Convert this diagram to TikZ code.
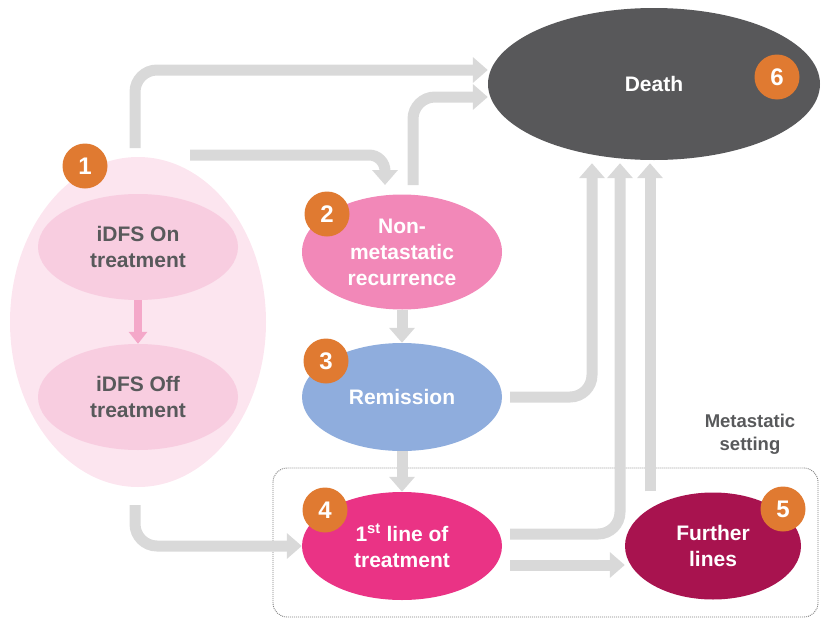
\documentclass[tikz,border=0pt]{standalone}
\usepackage{fontspec}
\setmainfont{Liberation Sans}
\usetikzlibrary{shapes.geometric,arrows.meta,calc}
\definecolor{flowgray}{HTML}{D9D9D9}
\definecolor{paleA}{HTML}{FCE5EF}
\definecolor{paleB}{HTML}{F8CDE0}
\definecolor{txtgray}{HTML}{58595B}
\definecolor{badgeor}{HTML}{E07A31}
\definecolor{deathc}{HTML}{58585A}
\definecolor{nmc}{HTML}{F288B8}
\definecolor{remc}{HTML}{8FADDD}
\definecolor{firstc}{HTML}{EA3385}
\definecolor{furtherc}{HTML}{A8134F}
\definecolor{pinkarrow}{HTML}{F4A8C9}
\tikzset{
  state/.style={ellipse, inner sep=0pt, align=center, text=white,
    font=\bfseries\fontsize{21}{26}\selectfont},
  inner/.style={ellipse, inner sep=0pt, align=center, fill=paleB, text=txtgray,
    minimum width=200pt, minimum height=106pt, font=\bfseries\fontsize{21}{26}\selectfont},
  badge/.style={circle, fill=badgeor, text=white, minimum size=45pt, inner sep=0pt,
    font=\bfseries\fontsize{24}{24}\selectfont},
  flow/.style={draw=flowgray, line width=11pt, rounded corners=22pt,
    -{Triangle[length=15pt,width=25pt]}},
}
\begin{document}
\begin{tikzpicture}[x=1pt,y=-1pt]
\useasboundingbox (0,0) rectangle (822,621);
% metastatic setting box
\draw[gray, line width=0.9pt, dash pattern=on 1pt off 1pt, rounded corners=14pt]
  (273,468) rectangle (818,617);
\node[text=txtgray, align=center, font=\bfseries\fontsize{18.5}{23}\selectfont] (meta) at (750,434) {Metastatic\\setting};

% state 1
\node[ellipse, fill=paleA, minimum width=256pt, minimum height=330pt, inner sep=0pt] (n1) at (138,322) {};
\node[inner] (on) at (138,247) {iDFS On\\treatment};
\node[inner] (off) at (138,397) {iDFS Off\\treatment};
\draw[draw=pinkarrow, line width=8pt, -{Triangle[length=12pt,width=18pt]}] (on) -- (off);

% other states
\node[state, fill=deathc, minimum width=332pt, minimum height=152pt] (death) at (654,84) {Death};
\node[state, fill=nmc, minimum width=200pt, minimum height=115pt] (n2) at (402,252) {Non-\\metastatic\\recurrence};
\node[state, fill=remc, minimum width=200pt, minimum height=108pt] (n3) at (402,397) {Remission};
\node[state, fill=firstc, minimum width=200pt, minimum height=108pt] (n4) at (402,546) {1\textsuperscript{st} line of\\treatment};
\node[state, fill=furtherc, minimum width=176pt, minimum height=107pt] (n5) at (713,546) {Further\\lines};

% flows
\coordinate (a0) at (135,148);
\coordinate (b0) at (190,155);
\coordinate (b1) at (385,185);
\coordinate (c0) at (413,185);
\coordinate (j0) at (135,505);
\coordinate (k0) at ($(n4.east)+(8,19)$);
\draw[flow] (a0) |- ($(death.west)+(0,-14)$);
\draw[flow, rounded corners=16pt] (b0) -| (b1);
\draw[flow] (c0) |- ($(death.west)+(0,13)$);
\draw[flow] (n2) -- (n3);
\draw[flow] (n3) -- (n4);
\draw[flow] ($(n3.east)+(8,0)$) -| ($(death.south)+(-62,3)$);
\draw[flow] ($(n4.east)+(8,-12)$) -| ($(death.south)+(-34,3)$);
\draw[flow] ($(n5.north)+(-63,-1)$) -- ($(death.south)+(-4,3)$);
\draw[flow] (k0) -- (k0 -| n5.west);
\draw[flow] (j0) |- (n4.west);

% badges
\node[badge] (bd1) at (85,166) {1};
\node[badge] (bd2) at (327,214) {2};
\node[badge] (bd3) at (326,361) {3};
\node[badge] (bd4) at (325,510) {4};
\node[badge] (bd5) at (783,509) {5};
\node[badge] (bd6) at (777,77) {6};
\end{tikzpicture}
\end{document}
